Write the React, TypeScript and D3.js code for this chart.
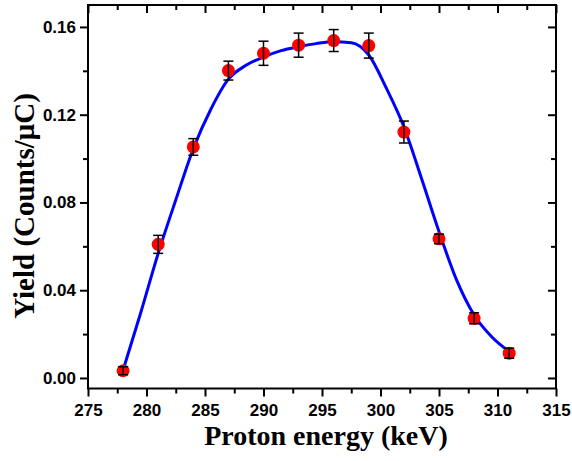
import React, { useEffect, useRef } from "react";
import * as d3 from "d3";

// measured points
const energy = [278, 281, 284, 287, 290, 293, 296, 299, 302, 305, 308, 311];
const yieldVals = [0.0033, 0.0609, 0.1053, 0.1401, 0.148, 0.1517, 0.1538, 0.1515, 0.1121, 0.0634, 0.0272, 0.0113];
const yieldErr = [0.0018, 0.0041, 0.0038, 0.0043, 0.0055, 0.0055, 0.005, 0.0057, 0.005, 0.0022, 0.0025, 0.0023];

// fitted curve
const fitEnergy = [278, 279.5, 281, 282.5, 284, 285.5, 287, 288.5, 290, 291.5, 293, 294.5, 296, 297.5, 299, 300.5, 302, 303.5, 305, 306.5, 308, 309.5, 311];
const fitYield = [0.0036, 0.0296, 0.0568, 0.0811, 0.1045, 0.1225, 0.1362, 0.1425, 0.1463, 0.1492, 0.151, 0.1524, 0.1533, 0.1528, 0.1472, 0.1321, 0.1145, 0.091, 0.0667, 0.0447, 0.0287, 0.0188, 0.012];

const xTicks = [275, 280, 285, 290, 295, 300, 305, 310, 315];
const yTicks = [0, 0.04, 0.08, 0.12, 0.16];

const App = () => {
  const ref = useRef<SVGSVGElement>(null);

  useEffect(() => {
    const svg = d3.select(ref.current);
    svg.selectAll("*").remove();

    const width = 572, height = 461;
    const left = 88, right = 556, top = 5, bottom = 388.5;
    svg.attr("width", width).attr("height", height);

    const x = d3.scaleLinear().domain([275, 315]).range([left, right]);
    const y = d3.scaleLinear().domain([-0.0048, 0.17]).range([bottom, top]);

    const xMinor = d3.range(275, 315.1, 2.5).filter((v) => !xTicks.includes(v));
    const yMinor = d3.range(0.02, 0.17, 0.04);

    const styleAxis = (g) => {
      g.select(".domain").remove();
      g.selectAll("line").attr("stroke", "#000").attr("stroke-width", 2);
      g.selectAll("text")
        .attr("font-family", "'Liberation Sans', Arial, sans-serif")
        .attr("font-weight", "bold")
        .attr("font-size", 17)
        .attr("fill", "#000");
    };

    // bottom
    svg.append("g")
      .attr("transform", `translate(0,${bottom})`)
      .call(d3.axisBottom(x).tickValues(xTicks).tickSize(8).tickPadding(7).tickFormat(d3.format("d")))
      .call(styleAxis);
    svg.append("g")
      .attr("transform", `translate(0,${bottom})`)
      .call(d3.axisBottom(x).tickValues(xMinor).tickSize(5).tickFormat(() => ""))
      .call(styleAxis);
    // top (inward)
    svg.append("g")
      .attr("transform", `translate(0,${top})`)
      .call(d3.axisBottom(x).tickValues(xTicks).tickSize(8).tickFormat(() => ""))
      .call(styleAxis);
    svg.append("g")
      .attr("transform", `translate(0,${top})`)
      .call(d3.axisBottom(x).tickValues(xMinor).tickSize(5).tickFormat(() => ""))
      .call(styleAxis);
    // left
    svg.append("g")
      .attr("transform", `translate(${left},0)`)
      .call(d3.axisLeft(y).tickValues(yTicks).tickSize(8).tickPadding(4).tickFormat(d3.format(".2f")))
      .call(styleAxis);
    svg.append("g")
      .attr("transform", `translate(${left},0)`)
      .call(d3.axisLeft(y).tickValues(yMinor).tickSize(5).tickFormat(() => ""))
      .call(styleAxis);
    // right (inward)
    svg.append("g")
      .attr("transform", `translate(${right},0)`)
      .call(d3.axisLeft(y).tickValues(yTicks).tickSize(8).tickFormat(() => ""))
      .call(styleAxis);
    svg.append("g")
      .attr("transform", `translate(${right},0)`)
      .call(d3.axisLeft(y).tickValues(yMinor).tickSize(5).tickFormat(() => ""))
      .call(styleAxis);

    svg.append("rect")
      .attr("x", left)
      .attr("y", top)
      .attr("width", right - left)
      .attr("height", bottom - top)
      .attr("fill", "none")
      .attr("stroke", "#000")
      .attr("stroke-width", 2);

    // fit curve
    const line = d3.line<number>()
      .x((d, i) => x(fitEnergy[i]))
      .y((d) => y(d))
      .curve(d3.curveMonotoneX);
    svg.append("path")
      .attr("d", line(fitYield))
      .attr("fill", "none")
      .attr("stroke", "#0000ff")
      .attr("stroke-width", 3);

    const pts = energy.map((e, i) => ({ e, v: yieldVals[i], err: yieldErr[i] }));

    svg.selectAll("circle.pt")
      .data(pts)
      .join("circle")
      .attr("class", "pt")
      .attr("cx", (d) => x(d.e))
      .attr("cy", (d) => y(d.v))
      .attr("r", 6.5)
      .attr("fill", "#ff0000");

    const eb = svg.append("g").attr("stroke", "#000").attr("stroke-width", 1.5);
    pts.forEach((d) => {
      const cx = x(d.e), y1 = y(d.v + d.err), y2 = y(d.v - d.err);
      eb.append("line").attr("x1", cx).attr("x2", cx).attr("y1", y1).attr("y2", y2);
      eb.append("line").attr("x1", cx - 5).attr("x2", cx + 5).attr("y1", y1).attr("y2", y1);
      eb.append("line").attr("x1", cx - 5).attr("x2", cx + 5).attr("y1", y2).attr("y2", y2);
    });

    svg.append("text")
      .attr("x", (left + right) / 2 + 4)
      .attr("y", 445)
      .attr("text-anchor", "middle")
      .attr("font-family", "'Liberation Serif', 'Times New Roman', serif")
      .attr("font-weight", "bold")
      .attr("font-size", 28)
      .text("Proton energy (keV)");

    svg.append("text")
      .attr("transform", "rotate(-90)")
      .attr("x", -206)
      .attr("y", 34)
      .attr("text-anchor", "middle")
      .attr("font-family", "'Liberation Serif', 'Times New Roman', serif")
      .attr("font-weight", "bold")
      .attr("font-size", 29)
      .text("Yield (Counts/\u03bcC)");
  }, []);

  return <svg ref={ref} style={{ position: "absolute", left: 0, top: 0 }} />;
};

export default App;
